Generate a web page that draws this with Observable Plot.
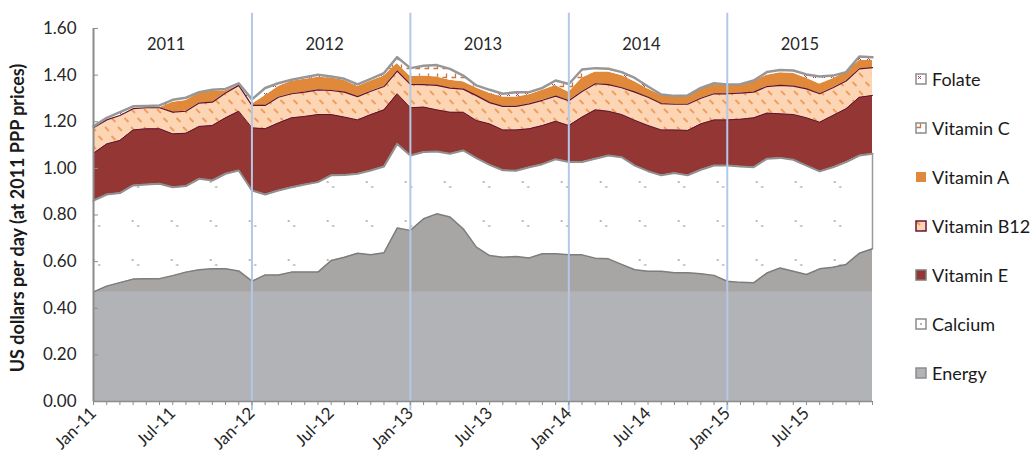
<!DOCTYPE html>
<html>
<head>
<meta charset="utf-8">
<script src="https://cdn.jsdelivr.net/npm/d3@7"></script>
<script src="https://cdn.jsdelivr.net/npm/@observablehq/plot@0.6"></script>
<style>
  body { margin: 0; background: #fff; font-family: Lato, "Open Sans", sans-serif; }
  #wrap { position: relative; width: 1036px; height: 466px; overflow: hidden; }
  #chart { position: absolute; left: 0; top: 0; }
  .item { position: absolute; left: 915px; display: flex; align-items: center; font-size: 18px; color: #1a1a1a; white-space: nowrap; line-height: 22px; }
  .item svg { margin-right: 5px; }
</style>
</head>
<body>
<svg width="0" height="0" style="position:absolute">
  <defs>
    <pattern id="pDots" patternUnits="userSpaceOnUse" x="14.7" y="25" width="39" height="39">
      <rect width="39" height="39" fill="#ffffff"/>
      <rect x="0" y="0" width="2" height="2" fill="#b9b9b9"/>
      <rect x="5.5" y="5" width="2" height="2" fill="#b9b9b9"/>
    </pattern>
    <pattern id="pB12" patternUnits="userSpaceOnUse" width="13" height="18">
      <rect width="13" height="18" fill="#fcd5b4"/>
      <line x1="1" y1="1" x2="5" y2="5" stroke="#f19c5a" stroke-width="1.8"/>
      <line x1="7.5" y1="10" x2="11.5" y2="14" stroke="#f19c5a" stroke-width="1.8"/>
    </pattern>
    <pattern id="pHook" patternUnits="userSpaceOnUse" width="9" height="9">
      <rect width="9" height="9" fill="#ffffff"/>
      <path d="M5.5 1.5 V5.5 H1.5" fill="none" stroke="#c8763c" stroke-width="1.3"/>
    </pattern>
    <pattern id="pX" patternUnits="userSpaceOnUse" width="9" height="9">
      <rect width="9" height="9" fill="#ffffff"/>
      <path d="M3 3 L6 6 M6 3 L3 6" fill="none" stroke="#b03a64" stroke-width="1"/>
    </pattern>
  </defs>
</svg>
<div id="wrap"><div id="chart"></div></div>
<script>
// ---------- data (US$ per day, monthly Jan-2011 .. Dec-2015, stacked components) ----------
const monthTickLabels = ["Jan-11","Jul-11","Jan-12","Jul-12","Jan-13","Jul-13","Jan-14","Jul-14","Jan-15","Jul-15"];
const yearLabels = ["2011","2012","2013","2014","2015"];
const yTicks = [0, 0.2, 0.4, 0.6, 0.8, 1.0, 1.2, 1.4, 1.6];
const energyBase = 0.47;
const yTitle = "US dollars per day (at 2011 PPP prices)";

const energy = [
  0.470,0.495,0.510,0.525,0.527,0.527,0.540,0.555,0.565,0.569,0.569,0.560,
  0.516,0.543,0.543,0.555,0.555,0.555,0.605,0.619,0.636,0.629,0.638,0.744,
  0.734,0.784,0.805,0.791,0.741,0.662,0.626,0.619,0.622,0.616,0.634,0.634,
  0.629,0.629,0.615,0.612,0.588,0.565,0.559,0.559,0.552,0.552,0.548,0.541,
  0.516,0.511,0.509,0.551,0.573,0.559,0.545,0.569,0.576,0.588,0.636,0.655];
const calcium = [
  0.392,0.393,0.384,0.402,0.404,0.407,0.379,0.369,0.390,0.379,0.408,0.431,
  0.389,0.345,0.362,0.364,0.376,0.386,0.365,0.353,0.341,0.362,0.370,0.361,
  0.321,0.286,0.267,0.272,0.336,0.382,0.389,0.373,0.368,0.389,0.384,0.405,
  0.398,0.398,0.426,0.443,0.460,0.447,0.429,0.411,0.428,0.418,0.446,0.471,
  0.496,0.497,0.496,0.490,0.472,0.478,0.467,0.418,0.429,0.439,0.419,0.408];
const vitaminE = [
  0.203,0.217,0.226,0.238,0.239,0.236,0.229,0.227,0.225,0.236,0.240,0.254,
  0.269,0.282,0.290,0.298,0.292,0.290,0.261,0.248,0.231,0.240,0.243,0.215,
  0.205,0.193,0.179,0.178,0.164,0.161,0.176,0.173,0.175,0.165,0.166,0.163,
  0.157,0.193,0.210,0.190,0.183,0.194,0.196,0.195,0.185,0.193,0.197,0.196,
  0.196,0.203,0.212,0.196,0.189,0.194,0.205,0.211,0.222,0.229,0.250,0.250];
const vitaminB12 = [
  0.109,0.103,0.107,0.091,0.090,0.090,0.093,0.094,0.100,0.100,0.106,0.111,
  0.096,0.100,0.110,0.103,0.104,0.106,0.103,0.107,0.100,0.100,0.100,0.097,
  0.100,0.096,0.105,0.103,0.099,0.107,0.091,0.101,0.101,0.107,0.108,0.108,
  0.106,0.110,0.112,0.114,0.115,0.121,0.121,0.113,0.110,0.112,0.110,0.112,
  0.112,0.112,0.110,0.114,0.122,0.122,0.124,0.122,0.119,0.119,0.122,0.119];
const vitaminA = [
  0,0,0,0,0,0,0.043,0.046,0.043,0.047,0.010,0,
  0.005,0.042,0.046,0.054,0.055,0.054,0.054,0.051,0.043,0.044,0.045,0.033,
  0.034,0.037,0.036,0.034,0.032,0.033,0.040,0.040,0.040,0.039,0.043,0.046,
  0.037,0.058,0.050,0.054,0.052,0.045,0.036,0.036,0.036,0.036,0.039,0.039,
  0.038,0.038,0.046,0.049,0.054,0.055,0.046,0.042,0.038,0.038,0.036,0.031];
const vitaminC = [
  0,0,0,0,0,0,0,0,0,0,0,0,
  0,0,0,0,0,0,0,0,0,0,0,0.027,
  0.036,0.044,0.051,0.049,0.026,0,0,0,0,0,0,0,
  0.035,0.036,0,0,0,0,0,0,0,0,0,0,
  0,0,0,0,0,0,0,0,0,0,0,0];
const folate = [
  0.006,0.009,0.014,0.010,0.008,0.010,0.010,0.012,0.004,0.006,0.008,0.009,
  0.021,0.033,0.014,0.006,0.009,0.011,0.006,0.006,0.009,0.009,0.013,0,
  0,0,0,0,0,0.011,0.015,0.014,0.021,0.011,0.010,0.021,
  0,0,0.017,0.014,0.015,0.016,0.010,0.003,0,0.002,0.005,0.006,
  0.002,0,0.004,0.013,0.012,0.012,0.016,0.032,0.014,0,0.017,0.014];

const legendOrder = ["Folate","Vitamin C","Vitamin A","Vitamin B12","Vitamin E","Calcium","Energy"];

// ---------- build stacked table ----------
const layers = [
  {key: "Energy",      values: energy,     fill: "#a8a6a5"},
  {key: "Calcium",     values: calcium,    fill: "url(#pDots)"},
  {key: "Vitamin E",   values: vitaminE,   fill: "#943634"},
  {key: "Vitamin B12", values: vitaminB12, fill: "url(#pB12)"},
  {key: "Vitamin A",   values: vitaminA,   fill: "#e0893b"},
  {key: "Vitamin C",   values: vitaminC,   fill: "url(#pHook)"},
  {key: "Folate",      values: folate,     fill: "url(#pX)"}
];
const n = energy.length;
const cum = new Array(n).fill(0);
const rows = [];
for (const L of layers) {
  for (let i = 0; i < n; i++) {
    const y1 = cum[i], y2 = cum[i] + L.values[i];
    rows.push({layer: L.key, i, y1, y2});
    cum[i] = y2;
  }
}
const of = (k) => rows.filter(d => d.layer === k);
const idx = d3.range(n);
const yearStarts = d3.range(1, yearLabels.length).map(k => k * 12);
const labelTicks = monthTickLabels.map((_, k) => k * 6);

const areaMarks = layers.map(L => Plot.areaY(of(L.key), {x: "i", y1: "y1", y2: "y2", fill: L.fill}));

const chart = Plot.plot({
  width: 1036,
  height: 466,
  marginLeft: 93,
  marginRight: 164,
  marginTop: 28,
  marginBottom: 65,
  style: {fontFamily: "Lato, 'Open Sans', sans-serif", fontSize: "16px", color: "#262626", background: "transparent", overflow: "visible"},
  x: {type: "linear", domain: [0, n - 1]},
  y: {domain: [0, 1.6]},
  marks: [
    ...areaMarks,
    Plot.areaY(idx, {x: d => d, y1: 0, y2: () => energyBase, fill: "#b2b3b7"}),
    Plot.line(of("Energy"), {x: "i", y: "y2", stroke: "#7d7d7d", strokeWidth: 1.5}),
    Plot.line(of("Calcium"), {x: "i", y: "y2", stroke: "#8f8f8f", strokeWidth: 2}),
    Plot.ruleX(of("Calcium").filter(d => d.i === n - 1), {x: "i", y1: "y1", y2: "y2", stroke: "#9a9a9a", strokeWidth: 1.5}),
    Plot.line(of("Vitamin E"), {x: "i", y: "y2", stroke: "#5e1431", strokeWidth: 1}),
    Plot.line(of("Vitamin B12"), {x: "i", y: "y2", stroke: "#5e1431", strokeWidth: 1.2}),
    Plot.line(of("Folate"), {x: "i", y: "y2", stroke: "#979797", strokeWidth: 2.5}),
    Plot.ruleX(yearStarts, {x: d => d, y1: -0.04, y2: 1.665, stroke: "#b4c7e7", strokeWidth: 2}),
    Plot.text(yearLabels, {x: (d, k) => k * 12 + 5.5, y: 1.53, text: d => d, fontSize: 16.5, fill: "#262626"}),
    Plot.ruleX([0], {stroke: "#8c8c8c", strokeWidth: 2}),
    Plot.ruleY([0], {stroke: "#8c8c8c", strokeWidth: 1.5}),
    Plot.axisY({ticks: yTicks, tickSize: 5, dx: 5, tickFormat: () => "", stroke: "#8c8c8c"}),
    Plot.axisY({ticks: yTicks, tickSize: 0, tickPadding: 17, tickFormat: d3.format(".2f"), fontSize: 17, fill: "#262626", label: null}),
    Plot.axisX({ticks: idx, tickSize: 4, tickFormat: () => "", stroke: "#8c8c8c", label: null}),
    Plot.axisX({ticks: labelTicks, tickSize: 0, tickPadding: 9, tickRotate: -45, tickFormat: d => monthTickLabels[d / 6], fontSize: 17, fill: "#262626", label: null}),
    Plot.text([yTitle], {frameAnchor: "left", dx: -75, dy: 3, rotate: -90, textAnchor: "middle", text: d => d, fontSize: 18, fontWeight: "bold", fill: "#1a1a1a"})
  ]
});
document.getElementById("chart").appendChild(chart);

// ---------- legend (HTML, right side) ----------
const swatch = {
  "Folate":      {fill: "url(#pX)",    stroke: "#8c8c8c"},
  "Vitamin C":   {fill: "url(#pHook)", stroke: "#8c8c8c"},
  "Vitamin A":   {fill: "#e0893b",     stroke: "none"},
  "Vitamin B12": {fill: "url(#pB12)",  stroke: "#6a1435"},
  "Vitamin E":   {fill: "#943634",     stroke: "#7d7d7d"},
  "Calcium":     {fill: "#ffffff",     stroke: "#8c8c8c", dot: true},
  "Energy":      {fill: "#b2b3b7",     stroke: "#8c8c8c"}
};
const wrap = document.getElementById("wrap");
legendOrder.forEach((name, k) => {
  const s = swatch[name];
  const div = document.createElement("div");
  div.className = "item";
  div.style.top = (79.3 + k * 49 - 11) + "px";
  div.innerHTML = `<svg width="12" height="12"><rect x="1" y="1" width="10" height="10" fill="${s.fill}" stroke="${s.stroke}" stroke-width="1.5"/>${s.dot ? '<rect x="5" y="5" width="2" height="2" fill="#b9b9b9"/>' : ''}</svg><span>${name}</span>`;
  wrap.appendChild(div);
});
</script>
</body>
</html>
